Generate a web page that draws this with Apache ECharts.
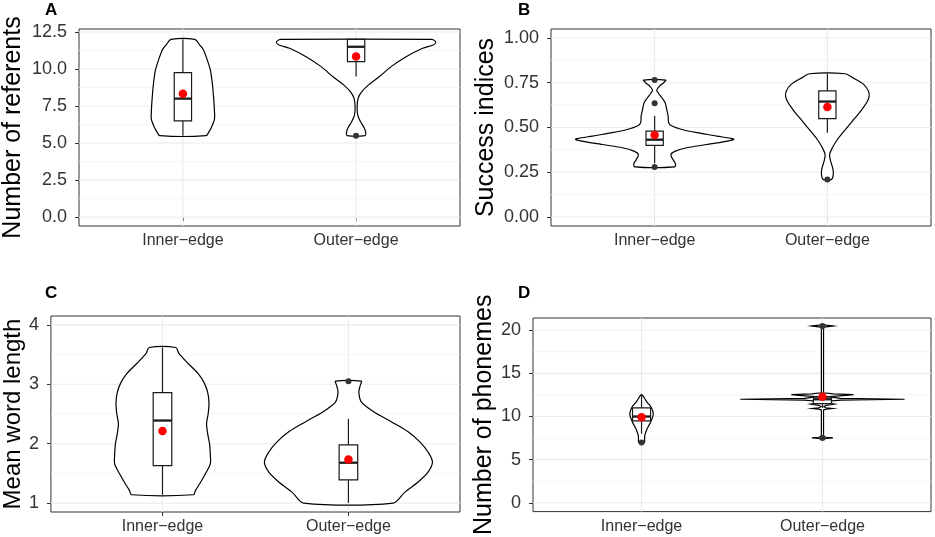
<!DOCTYPE html>
<html><head><meta charset="utf-8">
<script src="https://cdn.jsdelivr.net/npm/echarts@6/dist/echarts.min.js"></script>
<style>html,body{margin:0;padding:0;background:#fff}#c{width:935px;height:537px}</style>
</head><body><div id="c"></div>
<script>
const categories = ['Inner\u2212edge', 'Outer\u2212edge'];
const panelLetters = ['A', 'B', 'C', 'D'];
const yTitles = ['Number of referents', 'Success indices', 'Mean word length', 'Number of phonemes'];
const yTicksA = [0, 2.5, 5, 7.5, 10, 12.5];
const yTicksB = [0, 0.25, 0.5, 0.75, 1];
const yTicksC = [1, 2, 3, 4];
const yTicksD = [0, 5, 10, 15, 20];

// violin density profiles: [value, half-width in category units]
const violinA_inner = [[5.5,0.133],[5.75,0.150],[6.0,0.162],[6.6,0.182],[7.2,0.182],[8.1,0.177],[9.0,0.170],[9.9,0.159],[10.6,0.141],[11.3,0.118],[11.65,0.095],[12.0,0.069]];
const violinA_outer = [[5.5,0.052],[5.67,0.056],[6.0,0.048],[6.45,0.025],[6.9,0.009],[7.46,0.006],[8.03,0.012],[8.47,0.033],[8.93,0.072],[9.49,0.135],[10.16,0.202],[10.83,0.289],[11.4,0.384],[11.62,0.445],[11.78,0.46],[11.9,0.455],[12.0,0.437]];
const violinB_inner = [[0.28,0.116],[0.299,0.120],[0.321,0.106],[0.349,0.094],[0.368,0.120],[0.387,0.187],[0.405,0.301],[0.433,0.458],[0.452,0.359],[0.471,0.245],[0.489,0.158],[0.508,0.100],[0.527,0.081],[0.564,0.078],[0.601,0.070],[0.638,0.061],[0.666,0.042],[0.69,0.023],[0.709,0.012],[0.731,0.029],[0.75,0.052],[0.765,0.064]];
const violinB_outer = [[0.209,0.023],[0.228,0.033],[0.265,0.033],[0.312,0.019],[0.349,0.013],[0.387,0.029],[0.433,0.058],[0.48,0.097],[0.536,0.145],[0.592,0.193],[0.647,0.232],[0.675,0.242],[0.703,0.238],[0.741,0.210],[0.778,0.147],[0.8,0.104]];
const violinC_inner = [[1.14,0.166],[1.21,0.177],[1.33,0.201],[1.49,0.230],[1.66,0.257],[1.83,0.257],[2.0,0.253],[2.17,0.243],[2.34,0.237],[2.51,0.246],[2.68,0.250],[2.85,0.244],[3.02,0.225],[3.18,0.192],[3.35,0.138],[3.52,0.088],[3.62,0.071]];
const violinC_outer = [[1.0,0.241],[1.18,0.302],[1.35,0.373],[1.52,0.428],[1.69,0.452],[1.86,0.428],[2.03,0.384],[2.2,0.321],[2.367,0.232],[2.535,0.138],[2.7,0.070],[2.873,0.056],[2.986,0.064],[3.054,0.069]];
const violinD_inner = [[7.0,0.016],[7.4,0.017],[7.81,0.018],[8.58,0.031],[9.34,0.05],[10.3,0.065],[11.07,0.053],[11.65,0.031],[12.23,0.013],[12.5,0.004]];
const violinD_outer = [[7.35,0.0],[7.45,0.02],[7.52,0.058],[7.6,0.02],[7.75,0.006],[10.75,0.006],[10.85,0.02],[10.93,0.057],[11.02,0.02],[11.15,0.008],[11.3,0.02],[11.45,0.065],[11.58,0.02],[11.75,0.015],[11.9,0.1],[12.0,0.454],[12.1,0.1],[12.3,0.03],[12.45,0.13],[12.54,0.172],[12.62,0.06],[12.75,0.006],[20.3,0.006],[20.4,0.02],[20.5,0.059],[20.6,0.02],[20.68,0.0]];

// box stats: [lower whisker, Q1, median, Q3, upper whisker]
const boxA = [[5.5,6.5,8.0,9.75,12.0],[9.5,10.5,11.5,12.0,12.0]];
const boxB = [[0.30,0.40,0.432,0.48,0.565],[0.47,0.55,0.645,0.705,0.80]];
const boxC = [[1.14,1.63,2.39,2.86,3.62],[1.0,1.39,1.68,1.98,2.42]];
const boxD = [[8.0,9.5,10.0,11.0,12.5],[11.0,11.5,12.0,12.25,12.5]];
const meanA = [8.33, 10.85];
const meanB = [0.458, 0.614];
const meanC = [2.215, 1.735];
const meanD = [9.92, 12.3];
const outliersA = [[], [5.5]];
const outliersB = [[0.765, 0.635, 0.28], [0.21]];
const outliersC = [[], [3.05]];
const outliersD = [[7.0], [20.5, 7.5]];

const panels = [
  {ticks: yTicksA, dec: 1, violins: [violinA_inner, violinA_outer], smooth: [0.3, 0.3], box: boxA, mean: meanA, out: outliersA,
   yMin: -0.6, yMax: 12.7, grid: {left: 79, top: 29, width: 381, height: 197}, nameGap: 53, nameSize: 25, letter: [45, 2]},
  {ticks: yTicksB, dec: 2, violins: [violinB_inner, violinB_outer], smooth: [0.3, 0.3], box: boxB, mean: meanB, out: outliersB,
   yMin: -0.05, yMax: 1.05, grid: {left: 551, top: 29, width: 380, height: 197}, nameGap: 52, nameSize: 25, letter: [518, 2]},
  {ticks: yTicksC, dec: 0, violins: [violinC_inner, violinC_outer], smooth: [0.3, 0.3], box: boxC, mean: meanC, out: outliersC,
   yMin: 0.85, yMax: 4.15, grid: {left: 49, top: 316, width: 411, height: 196}, nameGap: 24, nameSize: 24, letter: [45, 285]},
  {ticks: yTicksD, dec: 0, violins: [violinD_inner, violinD_outer], smooth: [0.3, 0], box: boxD, mean: meanD, out: outliersD,
   yMin: -1.02, yMax: 21.42, grid: {left: 533, top: 318, width: 398, height: 194}, nameGap: 36, nameSize: 25, letter: [518, 285]}
];

const FONT = 'Liberation Sans, Arial, Helvetica, sans-serif';

function gridRender(params, api) {
  const cs = params.coordSys;
  const v = api.value(0), kind = api.value(1);
  if (kind === 2) {
    const x = api.coord([v, 0])[0];
    return {type: 'line', shape: {x1: x, y1: cs.y, x2: x, y2: cs.y + cs.height}, style: {stroke: '#ebebeb', lineWidth: 1.1}};
  }
  const y = api.coord([1, v])[1];
  return {type: 'line', shape: {x1: cs.x, y1: y, x2: cs.x + cs.width, y2: y},
          style: {stroke: kind === 0 ? '#ebebeb' : '#f2f2f2', lineWidth: kind === 0 ? 1.1 : 0.8}};
}
function violinRender(profiles, smooths) {
  return function (params, api) {
    const i = api.value(0), cx = i + 1, prof = profiles[i];
    const pts = [];
    for (let k = 0; k < prof.length; k++) pts.push(api.coord([cx + prof[k][1], prof[k][0]]));
    for (let k = prof.length - 1; k >= 0; k--) pts.push(api.coord([cx - prof[k][1], prof[k][0]]));
    return {type: 'polygon', shape: {points: pts, smooth: smooths[i]}, style: {fill: '#fff', stroke: '#000', lineWidth: 1.2}};
  };
}
function boxRender(boxes) {
  return function (params, api) {
    const i = api.value(0), cx = i + 1, b = boxes[i], hw = 0.05;
    const xc = api.coord([cx, 0])[0], xl = api.coord([cx - hw, 0])[0], xr = api.coord([cx + hw, 0])[0];
    const y = b.map(v => api.coord([cx, v])[1]);
    const st = {stroke: '#1a1a1a', lineWidth: 1.2};
    return {type: 'group', children: [
      {type: 'line', shape: {x1: xc, y1: y[0], x2: xc, y2: y[1]}, style: st},
      {type: 'line', shape: {x1: xc, y1: y[3], x2: xc, y2: y[4]}, style: st},
      {type: 'rect', shape: {x: xl, y: y[3], width: xr - xl, height: y[1] - y[3]}, style: {fill: '#fff', stroke: '#1a1a1a', lineWidth: 1.2}},
      {type: 'line', shape: {x1: xl, y1: y[2], x2: xr, y2: y[2]}, style: {stroke: '#1a1a1a', lineWidth: 2.3}}
    ]};
  };
}

const option = {animation: false, backgroundColor: '#fff', textStyle: {fontFamily: FONT},
  title: [], grid: [], xAxis: [], yAxis: [], series: []};

panels.forEach((p, gi) => {
  option.title.push({text: panelLetters[gi], left: p.letter[0], top: p.letter[1], padding: 0,
    textStyle: {fontSize: 17, fontWeight: 'bold', color: '#000', fontFamily: FONT}});
  option.grid.push(Object.assign({show: true, borderColor: '#333', borderWidth: 1, backgroundColor: 'transparent'}, p.grid));
  option.xAxis.push({gridIndex: gi, type: 'value', min: 0.4, max: 2.6,
    axisLine: {show: false}, splitLine: {show: false},
    axisTick: {show: true, customValues: [1, 2], length: 4, lineStyle: {color: '#333', width: 1}},
    axisLabel: {customValues: [1, 2], formatter: v => categories[Math.round(v) - 1], fontSize: 16, color: '#333', margin: 7, fontFamily: FONT}});
  option.yAxis.push({gridIndex: gi, type: 'value', min: p.yMin, max: p.yMax,
    axisLine: {show: false}, splitLine: {show: false},
    axisTick: {show: true, customValues: p.ticks, length: 4, lineStyle: {color: '#333', width: 1}},
    axisLabel: {customValues: p.ticks, formatter: v => Number(v).toFixed(p.dec), fontSize: 18, color: '#333', margin: 12, fontFamily: FONT},
    name: yTitles[gi], nameLocation: 'middle', nameGap: p.nameGap,
    nameTextStyle: {fontSize: p.nameSize, color: '#000', fontFamily: FONT}});
  const gridData = [];
  p.ticks.forEach(t => gridData.push([t, 0]));
  for (let k = 0; k < p.ticks.length - 1; k++) gridData.push([(p.ticks[k] + p.ticks[k + 1]) / 2, 1]);
  [1, 2].forEach(c => gridData.push([c, 2]));
  option.series.push({type: 'custom', xAxisIndex: gi, yAxisIndex: gi, z: 1, silent: true, renderItem: gridRender, data: gridData, encode: {x: 0, y: 0}});
  option.series.push({type: 'custom', xAxisIndex: gi, yAxisIndex: gi, z: 2, silent: true, renderItem: violinRender(p.violins, p.smooth), data: [[0], [1]], encode: {x: 0, y: 0}});
  option.series.push({type: 'custom', xAxisIndex: gi, yAxisIndex: gi, z: 3, silent: true, renderItem: boxRender(p.box), data: [[0], [1]], encode: {x: 0, y: 0}});
  const outData = [];
  p.out.forEach((arr, i) => arr.forEach(v => outData.push([i + 1, v])));
  option.series.push({type: 'scatter', xAxisIndex: gi, yAxisIndex: gi, z: 4, silent: true, symbol: 'circle', symbolSize: 6,
    itemStyle: {color: '#333', opacity: 1}, data: outData});
  option.series.push({type: 'scatter', xAxisIndex: gi, yAxisIndex: gi, z: 5, silent: true, symbol: 'circle', symbolSize: 8.5,
    itemStyle: {color: '#ff0000', opacity: 1}, data: p.mean.map((v, i) => [i + 1, v])});
});

const chart = echarts.init(document.getElementById('c'));
chart.setOption(option);
</script></body></html>
